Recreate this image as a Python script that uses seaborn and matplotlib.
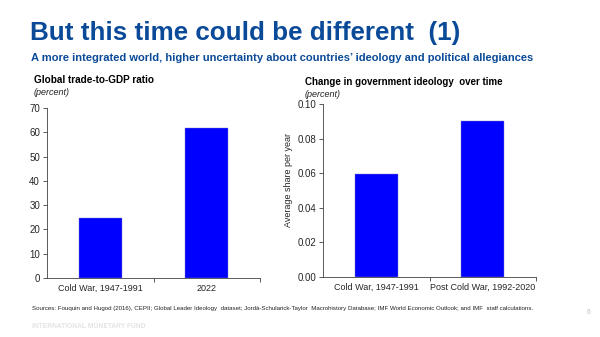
import matplotlib
matplotlib.use("Agg")
import matplotlib.pyplot as plt
import seaborn as sns
import numpy as np

sns.set_theme(style="white")
plt.rcParams['font.family'] = ['Liberation Sans', 'DejaVu Sans']

# Data
trade_cats = ["Cold War, 1947-1991", "2022"]
trade_vals = [24.7, 61.8]
ideo_cats = ["Cold War, 1947-1991", "Post Cold War, 1992-2020"]
ideo_vals = [0.0594, 0.090]

title = "But this time could be different  (1)"
subtitle = "A more integrated world, higher uncertainty about countries\u2019 ideology and political allegiances"
left_title = "Global trade-to-GDP ratio"
right_title = "Change in government ideology  over time"
unit = "(percent)"
ylab = "Average share per year"
sources = ("Sources: Fouquin and Hugod (2016), CEPII; Global Leader Ideology  dataset; Jord\u00e0-Schularick-Taylor  "
           "Macrohistory Database; IMF World Economic Outlook; and IMF  staff calculations.")

W, H = 600, 337
fig = plt.figure(figsize=(6, 3.37), dpi=100)
fig.patch.set_facecolor("white")

navy = "#0A4A98"
bar_color = "#0000FF"

def fx(px):
    return px / W

def fy(py):
    return 1 - py / H

fig.text(fx(30), fy(40), title, fontsize=18.7, fontweight="bold", color=navy, va="baseline")
fig.text(fx(31), fy(61), subtitle, fontsize=8.05, fontweight="bold", color=navy, va="baseline")

ax1 = fig.add_axes([fx(47), fy(278), fx(260) - fx(47), fy(108) - fy(278)])
ax2 = fig.add_axes([fx(323), fy(277), fx(536) - fx(323), fy(104) - fy(277)])

def style(ax, cats, vals, ylim, yticks, fmt):
    sns.barplot(x=cats, y=vals, ax=ax, color=bar_color, width=0.4, saturation=1,
                edgecolor="#8080c0", linewidth=0.3)
    ax.set_xlim(-0.5, 1.5)
    ax.set_ylim(*ylim)
    ax.set_yticks(yticks)
    ax.set_yticklabels([fmt.format(v) for v in yticks])
    ax.set_facecolor("white")
    for s in ["top", "right"]:
        ax.spines[s].set_visible(False)
    for s in ["left", "bottom"]:
        ax.spines[s].set_color("#404040")
        ax.spines[s].set_linewidth(0.6)
    ax.tick_params(axis="y", which="major", direction="out", length=3, width=0.6,
                   color="#404040", labelsize=7, pad=2, left=True)
    ax.tick_params(axis="x", which="major", length=0, labelsize=6.5, pad=4)
    ax.set_xticks([0.5, 1.5], minor=True)
    ax.tick_params(axis="x", which="minor", direction="out", length=3, width=0.6,
                   color="#404040", bottom=True)
    ax.set_xlabel("")
    ax.set_ylabel("")
    ax.grid(False)

style(ax1, trade_cats, trade_vals, (0, 70), np.arange(0, 71, 10), "{:.0f}")
style(ax2, ideo_cats, ideo_vals, (0, 0.10), np.round(np.arange(0, 0.101, 0.02), 2), "{:.2f}")
ax2.set_ylabel(ylab, fontsize=6.5)
ax2.yaxis.set_label_coords(-0.14, 0.56)

fig.text(fx(34), fy(83), left_title, fontsize=7.2, fontweight="bold", color="black", va="baseline")
fig.text(fx(34), fy(95), unit, fontsize=6.5, style="italic", color="#222222", va="baseline")
fig.text(fx(305), fy(85), right_title, fontsize=7, fontweight="bold", color="black", va="baseline")
fig.text(fx(305), fy(97), unit, fontsize=6.5, style="italic", color="#222222", va="baseline")

fig.text(fx(32), fy(310), sources, fontsize=4.45, color="#222222", va="baseline")
fig.text(fx(32), fy(328), "INTERNATIONAL MONETARY FUND", fontsize=4.8, fontweight="bold",
         color="#e3e3e3", va="baseline")
fig.text(fx(587), fy(314), "6", fontsize=4.8, color="#bbbbbb", va="baseline")

fig.savefig("out.png", dpi=100, facecolor="white")
